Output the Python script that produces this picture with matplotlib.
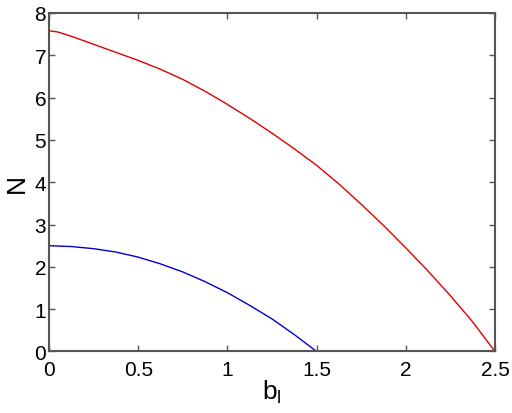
import numpy as np
import matplotlib.pyplot as plt

plt.rcParams['font.family'] = ['Liberation Sans', 'DejaVu Sans']

# values
b_red = [0.0, 0.05, 0.125, 0.25, 0.375, 0.5, 0.625, 0.75, 0.875, 1.0, 1.125, 1.25, 1.375,
         1.5, 1.625, 1.75, 1.875, 2.0, 2.125, 2.25, 2.375, 2.5]
N_red = [7.58, 7.55, 7.45, 7.26, 7.07, 6.88, 6.67, 6.43, 6.15, 5.84, 5.51, 5.16, 4.79,
         4.40, 3.96, 3.48, 2.98, 2.45, 1.90, 1.32, 0.70, 0.0]

b_blue = [0.0, 0.125, 0.25, 0.375, 0.5, 0.625, 0.75, 0.875, 1.0, 1.125, 1.25, 1.375, 1.5]
N_blue = [2.50, 2.48, 2.43, 2.35, 2.23, 2.07, 1.88, 1.65, 1.39, 1.09, 0.77, 0.40, 0.0]

fig = plt.figure(figsize=(5.12, 4.14), dpi=100)
ax = fig.add_axes([0.0957, 0.1486, 0.871, 0.8176])

ax.plot(b_red, N_red, color='#e00000', lw=1.0)
ax.plot(b_blue, N_blue, color='#0000d0', lw=1.0)

ax.set_xlim(0, 2.5)
ax.set_ylim(0, 8)
ax.set_xticks([0, 0.5, 1, 1.5, 2, 2.5])
ax.set_xticklabels(['0', '0.5', '1', '1.5', '2', '2.5'])
ax.set_yticks(range(0, 9))

for s in ax.spines.values():
    s.set_color('#555555')
    s.set_linewidth(1.5)
ax.tick_params(direction='in', top=True, right=True, length=4, width=1,
               color='#555555', labelsize=15)
ax.tick_params(axis='x', pad=6)
ax.tick_params(axis='y', pad=2)

ax.set_xlabel(r'b$_{\mathregular{l}}$', fontsize=19, labelpad=-1)
ax.set_ylabel('N', fontsize=19, labelpad=4)

fig.savefig('out.png', dpi=100)
